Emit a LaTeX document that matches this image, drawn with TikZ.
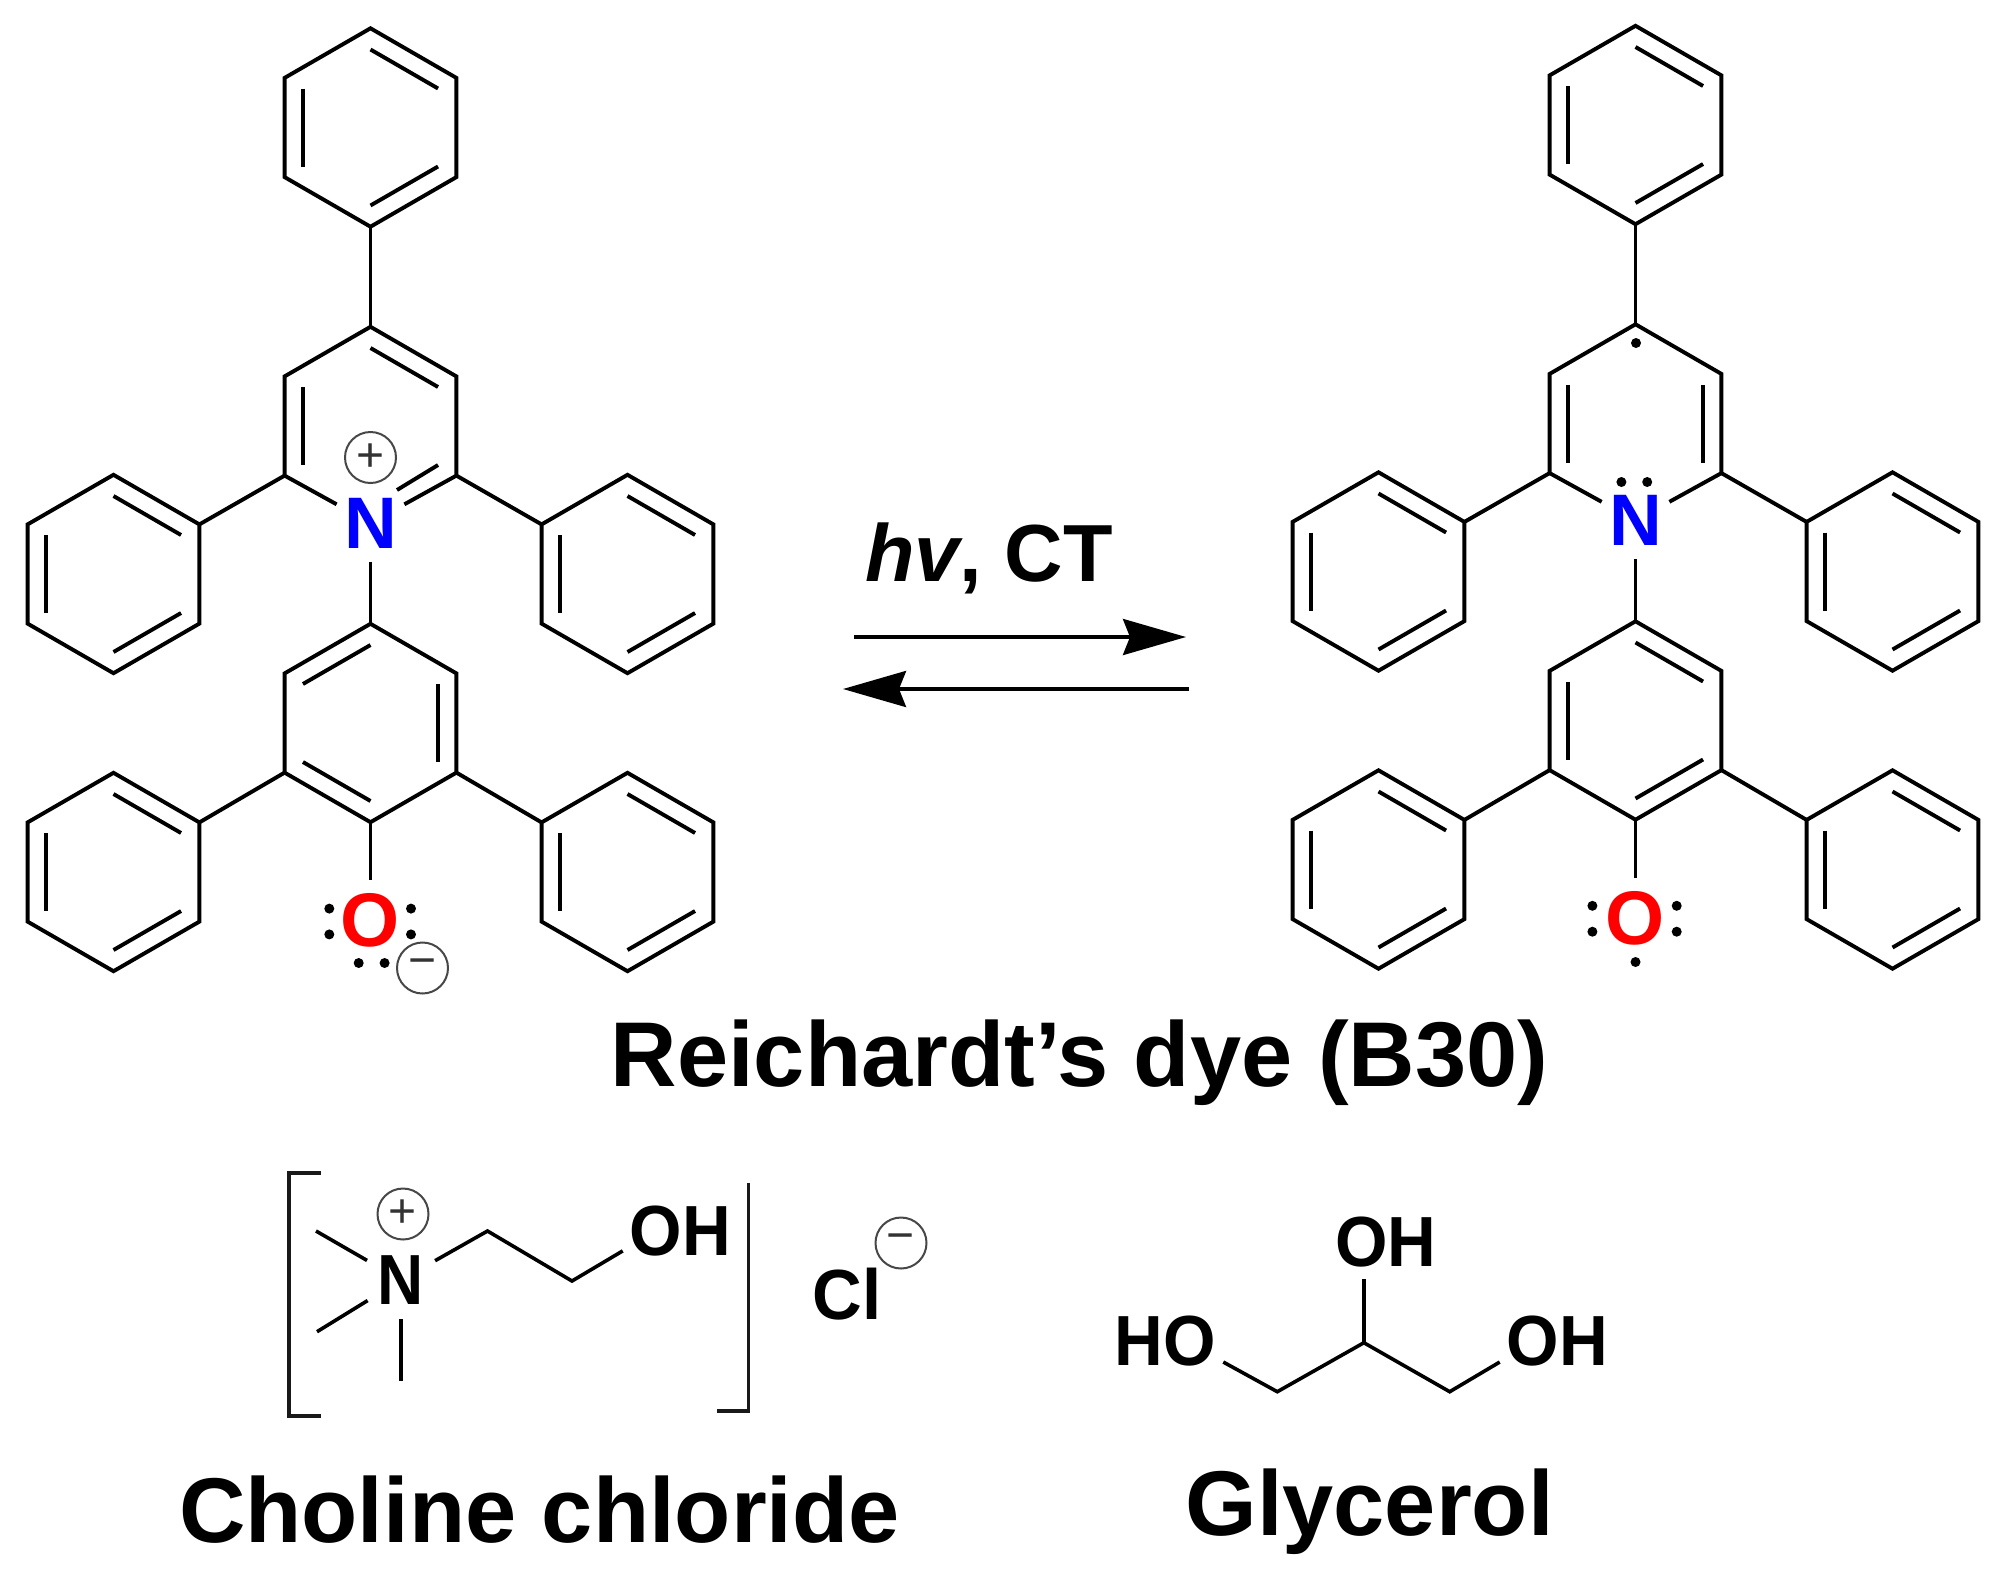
\documentclass[tikz,border=0pt]{standalone}
\usepackage{fontspec}
\usepackage{graphicx}
\setmainfont{Liberation Sans}
\usetikzlibrary{arrows.meta}
\newcommand{\fs}[1]{\fontsize{#1}{#1}\selectfont}
\newcommand{\ringpts}[3]{%
  \foreach \a in {30,90,150,210,270,330}{%
    \coordinate (#1-\a) at ({#2+99.2*cos(\a)},{#3-99.2*sin(\a)});
    \coordinate (#1-i\a) at ({#2+78*cos(\a)},{#3-78*sin(\a)});
  }}
\newcommand{\dbl}[2]{%
  \foreach \a/\b in {#2}{\draw[bond] (#1-i\a) -- (#1-i\b);}}
\newcommand{\phenyl}[3]{%
  \ringpts{#1}{#2}{#3}%
  \draw[bond] (#1-30) -- (#1-90) -- (#1-150) -- (#1-210) -- (#1-270) -- (#1-330) -- cycle;
  \dbl{#1}{30/90,150/210,270/330}}
\newcommand{\fullring}[4]{%
  \ringpts{#1}{#2}{#3}%
  \draw[bond] (#1-30) -- (#1-90) -- (#1-150) -- (#1-210) -- (#1-270) -- (#1-330) -- cycle;
  \dbl{#1}{#4}}
\tikzset{
  bond/.style={line width=3.9pt,line cap=butt,line join=miter,black},
  thinb/.style={line width=3.6pt,black},
  atomN/.style={shape=circle,inner sep=0pt,minimum size=77pt,font=\fs{73}\bfseries,text=blue},
  atomO/.style={shape=circle,inner sep=0pt,minimum size=66pt,font=\fs{76}\bfseries,text=red},
  lab/.style={shape=rectangle,inner xsep=7pt,inner ysep=12pt,font=\fs{71}\bfseries,text=black},
  cholN/.style={shape=circle,inner sep=0pt,minimum size=78pt,font=\fs{71}\bfseries,text=black},
  title/.style={anchor=base,inner sep=0pt,font=\fs{92}\bfseries,text=black},
  ldot/.style={shape=circle,fill=black,inner sep=0pt,minimum size=10pt},
  chg/.style={shape=circle,draw=black!72,line width=2pt,inner sep=0pt,minimum size=51pt,font=\fs{48},text=black!80},
  rxn/.style={line width=3.6pt,-{Stealth[length=63pt,width=36pt,inset=7pt]}},
  bracket/.style={line width=3.8pt,black!90}
}
\begin{document}
\begin{tikzpicture}[x=1pt,y=-1pt]
\useasboundingbox (0,0) rectangle (2001,1569);
\fill[white] (0,0) rectangle (2001,1569);

% ---------- left molecule
\phenyl{LT}{370.5}{127.5}
\ringpts{LC}{370.5}{426}
\phenyl{LA}{113.5}{574}
\phenyl{LB}{627.5}{574}
\fullring{LD}{370.5}{723}{90/150,210/270,330/30}
\phenyl{LE}{113.5}{872}
\phenyl{LF}{627.5}{872}
\node[atomN] (LN) at (370.5,523) {N};
\node[atomO] (LO) at (370.5,920.5) {O};
\draw[bond] (LT-270) -- (LC-90);
\draw[bond] (LN) -- (LC-210) -- (LC-150) -- (LC-90) -- (LC-30) -- (LC-330) -- (LN);
\dbl{LC}{150/210,30/90}
\coordinate (LNd) at (397,490);
\draw[bond] (LNd) -- (LC-i330);
\draw[bond] (LC-210) -- (LA-30);
\draw[bond] (LC-330) -- (LB-150);
\draw[bond] (LN) -- (LD-90);
\draw[bond] (LD-210) -- (LE-30);
\draw[bond] (LD-330) -- (LF-150);
\draw[bond] (LD-270) -- (LO);
\node[chg] (LP) at (370.5,457.5) {+};
\node[chg] (LM) at (422.5,968) {−};
\node[ldot] (ld1) at (329.3,908.6) {};
\node[ldot] (ld2) at (329.3,934.4) {};
\node[ldot] (ld3) at (411,908.6) {};
\node[ldot] (ld4) at (411,934.4) {};
\node[ldot] (ld5) at (358.7,963) {};
\node[ldot] (ld6) at (384.6,963) {};

% ---------- right molecule
\phenyl{RT}{1635.5}{125}
\ringpts{RC}{1635.5}{423.5}
\phenyl{RA}{1378.5}{571.5}
\phenyl{RB}{1892.5}{571.5}
\fullring{RD}{1635.5}{720.5}{30/90,150/210,270/330}
\phenyl{RE}{1378.5}{869.5}
\phenyl{RF}{1892.5}{869.5}
\node[atomN] (RN) at (1635.5,520.5) {N};
\node[atomO] (RO) at (1635.5,918) {O};
\draw[bond] (RT-270) -- (RC-90);
\draw[bond] (RN) -- (RC-210) -- (RC-150) -- (RC-90) -- (RC-30) -- (RC-330) -- (RN);
\dbl{RC}{150/210,330/30}
\draw[bond] (RC-210) -- (RA-30);
\draw[bond] (RC-330) -- (RB-150);
\draw[bond] (RN) -- (RD-90);
\draw[bond] (RD-210) -- (RE-30);
\draw[bond] (RD-330) -- (RF-150);
\draw[bond] (RD-270) -- (RO);
\node[ldot] (rd0) at (1636,343) {};
\node[ldot] (rd1) at (1621.4,482) {};
\node[ldot] (rd2) at (1647.2,482) {};
\node[ldot] (rd3) at (1592.4,905.8) {};
\node[ldot] (rd4) at (1592.4,931.7) {};
\node[ldot] (rd5) at (1676.7,905.8) {};
\node[ldot] (rd6) at (1676.7,931.7) {};
\node[ldot] (rd7) at (1635.5,962) {};

% ---------- reaction arrows
\node[title,font=\fs{81}\bfseries] (hv) at (989,581) {\textit{hv}, CT};
\coordinate (a1s) at (854,637); \coordinate (a1e) at (1186,637);
\coordinate (a2s) at (1189,689); \coordinate (a2e) at (843,689);
\draw[rxn] (a1s) -- (a1e);
\draw[rxn] (a2s) -- (a2e);
\node[title] (tB) at (1079.5,1086) {Reichardt’s dye (B30)};

% ---------- choline chloride
\coordinate (bl1) at (320.6,1172.7); \coordinate (bl2) at (289,1172.7);
\coordinate (bl3) at (289,1415.7); \coordinate (bl4) at (320.6,1415.7);
\draw[bracket] (bl1) -- (bl2) -- (bl3) -- (bl4);
\coordinate (br1) at (748.5,1183); \coordinate (br2) at (748.5,1411); \coordinate (br3) at (717,1411);
\draw[bracket] (br1) -- (br2) -- (br3);
\node[cholN] (CN) at (401,1280) {\scalebox{.9}[1]{N}};
\node[lab] (COH) at (680.5,1231) {\scalebox{.95}[1]{OH}};
\coordinate (Cm1) at (316,1231); \coordinate (Cm2) at (317,1331.7); \coordinate (Cm3) at (401,1380.7);
\coordinate (Cc1) at (487.5,1231); \coordinate (Cc2) at (572,1281);
\draw[thinb] (Cm1) -- (CN);
\draw[thinb] (Cm2) -- (CN);
\draw[thinb] (Cm3) -- (CN);
\draw[thinb] (CN) -- (Cc1) -- (Cc2) -- (COH.199);
\node[chg] (CP) at (403,1214) {+};
\node[lab] (Cl) at (847,1294.5) {\scalebox{.97}[1]{Cl}};
\node[chg] (CM) at (901,1243) {−};
\node[title] (tC) at (539.5,1542.7) {Choline chloride};

% ---------- glycerol
\node[lab] (GHO) at (1165.5,1341) {\scalebox{.95}[1]{HO}};
\node[lab] (GOHr) at (1557.5,1341) {\scalebox{.95}[1]{OH}};
\node[lab] (GOHt) at (1386,1242) {\scalebox{.95}[1]{OH}};
\coordinate (G1) at (1277.3,1391.7); \coordinate (G2) at (1363.9,1342.7); \coordinate (G3) at (1449.7,1391.7);
\draw[thinb] (GHO.-20) -- (G1) -- (G2) -- (G3) -- (GOHr.200);
\draw[thinb] (G2) -- (G2 |- GOHt.south);
\node[title] (tG) at (1369.5,1535) {Glycerol};
\end{tikzpicture}
\end{document}
